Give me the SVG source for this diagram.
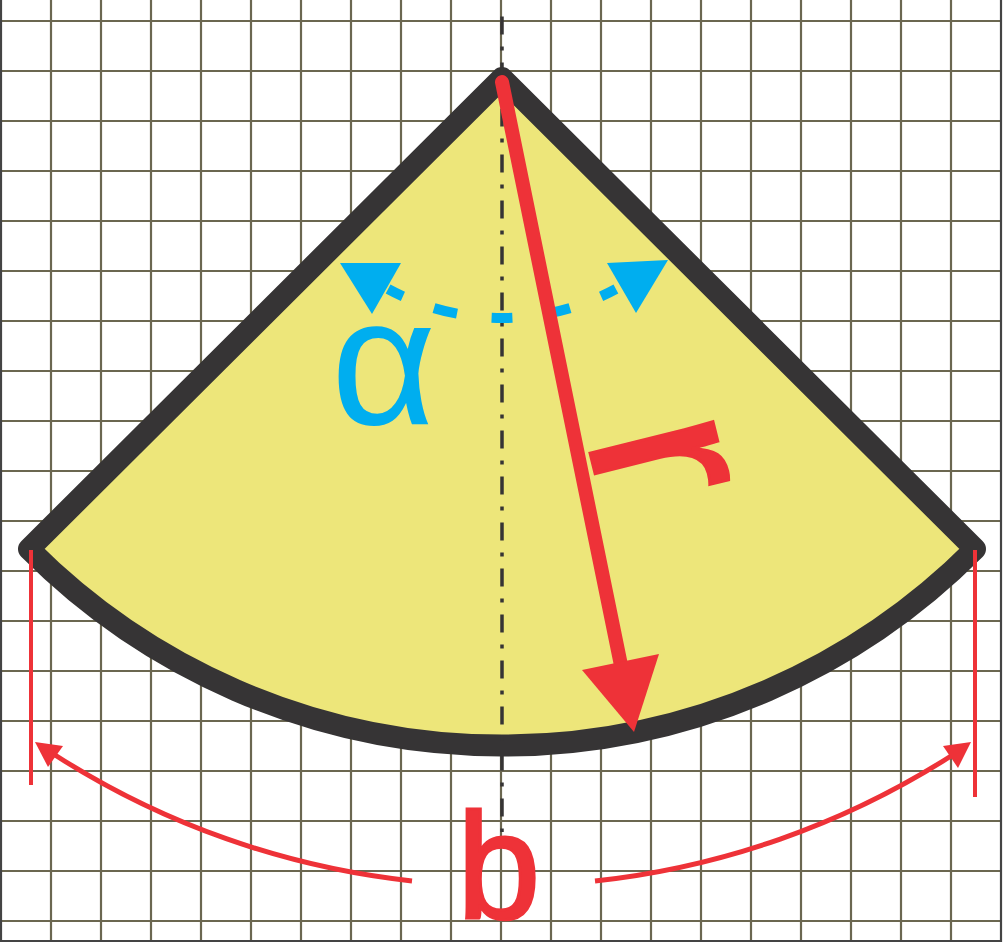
<svg xmlns="http://www.w3.org/2000/svg" width="1003" height="943" viewBox="0 0 1003 943">
<style>
.grid{stroke:#6b6750;stroke-width:2.2;fill:none}
.border{stroke:#444;stroke-width:2.2;fill:none}
.red{fill:#ee3238}
.redline{stroke:#ee3238;fill:none}
.blue{fill:#00aeef}
.blueline{stroke:#00aeef;stroke-width:10;fill:none}
</style>
<rect x="0" y="0" width="1003" height="943" fill="#fff"/>
<g id="grid">
<path class="grid" d="M51,0V941M101,0V941M151,0V941M201,0V941M251,0V941M301,0V941M351,0V941M401,0V941M451,0V941M501,0V941M551,0V941M601,0V941M651,0V941M701,0V941M751,0V941M801,0V941M851,0V941M901,0V941M951,0V941"/>
<path class="grid" d="M0,21H1001M0,71H1001M0,121H1001M0,171H1001M0,221H1001M0,271H1001M0,321H1001M0,371H1001M0,421H1001M0,471H1001M0,521H1001M0,571H1001M0,621H1001M0,671H1001M0,721H1001M0,771H1001M0,821H1001M0,871H1001M0,921H1001"/>
<path class="border" d="M1,0V941H1001V0"/>
</g>
<g id="sector">
<path d="M29,549 L502,78 L975,549 A667.5 667.5 0 0 1 29,549 Z" fill="#ede67a" stroke="#363435" stroke-width="22" stroke-linejoin="round"/>
</g>
<g id="axis">
<path d="M502,16.5V832" stroke="#363435" stroke-width="3.5" stroke-dasharray="18 12 4 12" fill="none"/>
</g>
<g id="angle">
<path class="blueline" d="M388.1,289 A238 238 0 0 0 402.9,296.4 M434,308.1 A238 238 0 0 0 457,313.7 M491.6,317.8 A238 238 0 0 0 512.4,317.8 M547,313.7 A238 238 0 0 0 570,308.1 M601.1,296.4 A238 238 0 0 0 615.9,289"/>
<polygon class="blue" points="340,263 401,263 372,314"/>
<polygon class="blue" points="668,260 607,263 636,313"/>
<text x="331" y="424" font-family="Liberation Sans, Arial, sans-serif" font-size="182" class="blue">α</text>
</g>
<g id="radius">
<path class="redline" d="M502,82 L624,680" stroke-width="14" stroke-linecap="round"/>
<polygon class="red" points="634,732 582,670 659,654"/>
<text transform="translate(586,437) rotate(76)" font-family="Liberation Sans, Arial, sans-serif" font-size="240" class="red" stroke="#ee3238" stroke-width="3">r</text>
</g>
<g id="arc-length">
<path class="redline" d="M31,550V785M975,550V797" stroke-width="4"/>
<path class="redline" d="M412,881 A827 827 0 0 1 55,755" stroke-width="5"/>
<path class="redline" d="M595,881 A827 827 0 0 0 951,756" stroke-width="5"/>
<polygon class="red" points="35,742 63,746 48,767"/>
<polygon class="red" points="971,742 943,746 958,768"/>
<text x="457" y="918" font-family="Liberation Sans, Arial, sans-serif" font-size="150" class="red" stroke="#ee3238" stroke-width="3">b</text>
</g>
</svg>
